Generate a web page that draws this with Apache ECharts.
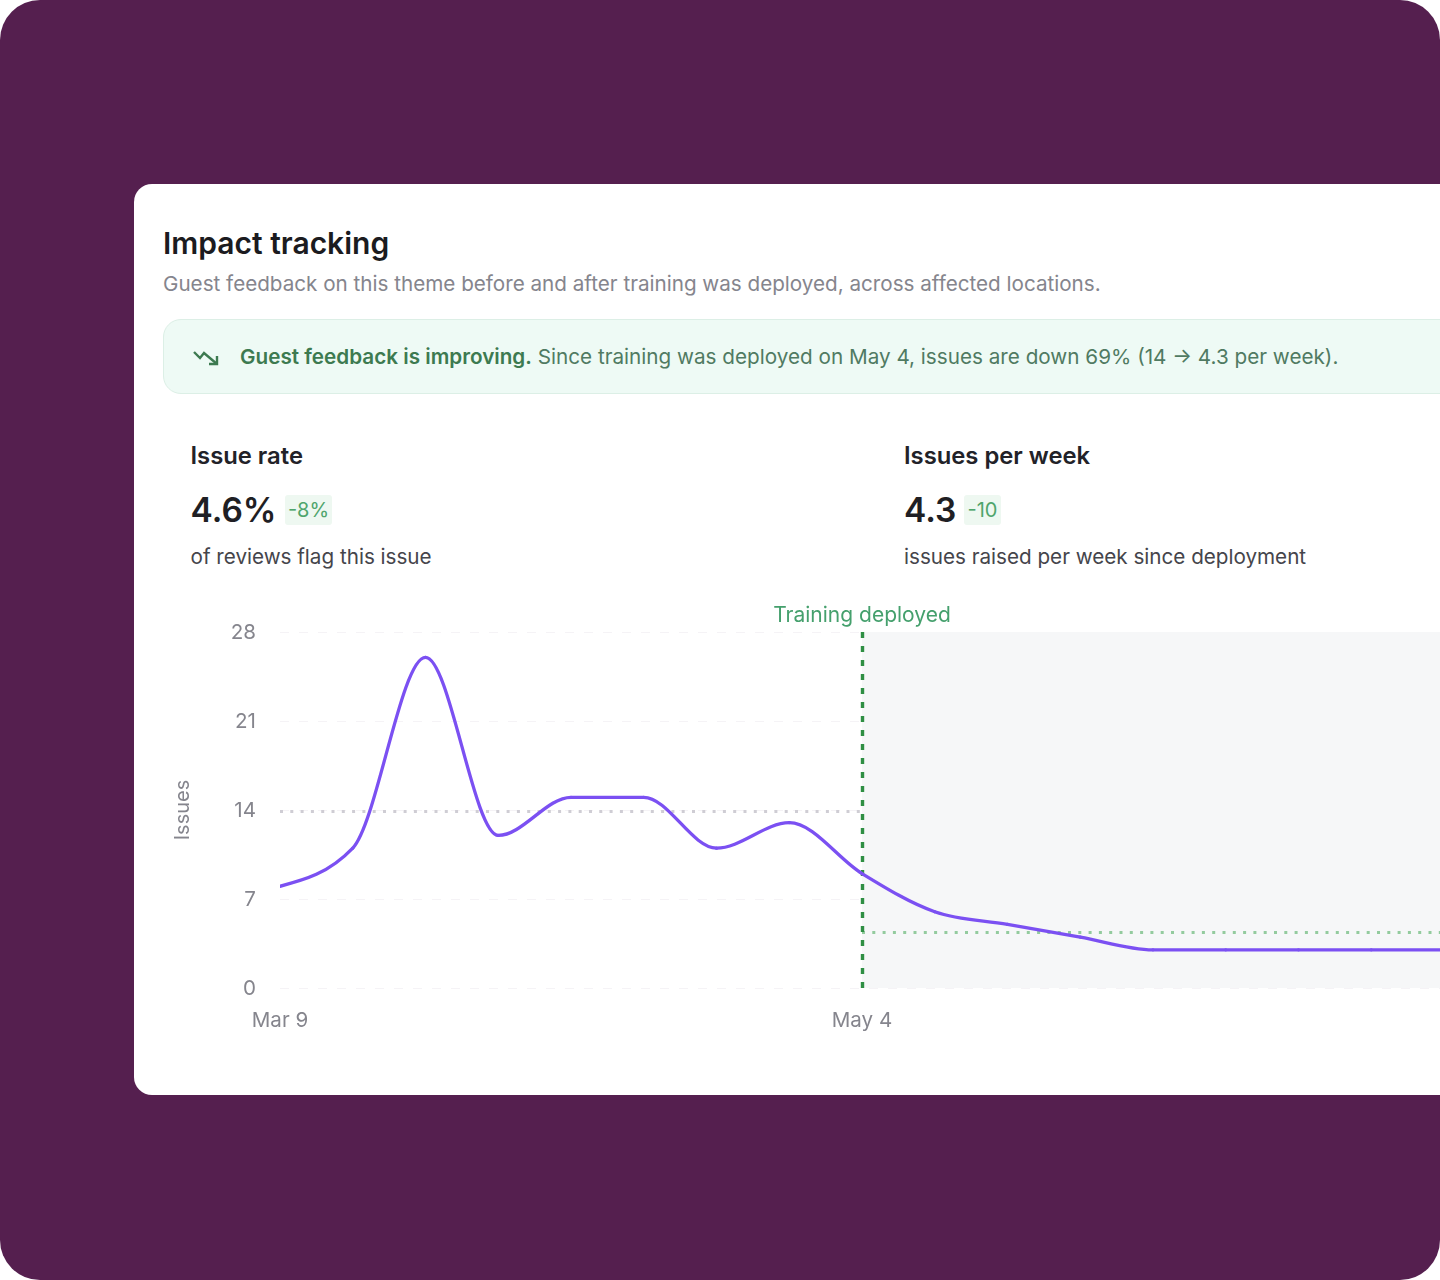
<!DOCTYPE html>
<html><head><meta charset="utf-8">
<script src="https://cdn.jsdelivr.net/npm/echarts@6/dist/echarts.min.js"></script>
<style>
html,body{margin:0;padding:0;width:1440px;height:1280px;overflow:hidden;background:#fff;font-family:Inter,sans-serif}
#bg{position:absolute;left:0;top:0;width:1440px;height:1280px;background:#551f4f;border-radius:40px;overflow:hidden}
#card{position:absolute;left:134px;top:184px;width:1400px;height:911px;background:#fff;border-radius:18px}
.t{position:absolute;white-space:nowrap;line-height:1}
#banner{position:absolute;left:163px;top:319px;width:1400px;height:73px;background:#eefaf5;border:1px solid #dcefe6;border-radius:18px}
.chip{position:absolute;background:#eef8f1;color:#4fa56c;font-size:20px;line-height:30px;height:30px;text-align:center;border-radius:3px}
#chart{position:absolute;left:0;top:590px;width:1500px;height:460px}
</style></head><body>
<div id="bg">
<div id="card"></div>
<div class="t" style="left:163px;top:228px;font-size:30px;font-weight:600;color:#1b1b20">Impact tracking</div>
<div class="t" style="left:163px;top:274px;font-size:20.65px;color:#85858d">Guest feedback on this theme before and after training was deployed, across affected locations.</div>
<div id="banner"></div>
<svg style="position:absolute;left:192px;top:347px" width="28" height="22" viewBox="0 0 28 22" fill="none" stroke="#3d7a50" stroke-width="2.4" stroke-linejoin="miter"><path d="M2 5 L8 11 L12 6 L25 17"/><path d="M25 9 V17 H17"/></svg>
<div class="t" style="left:240px;top:346.5px;font-size:20.7px;color:#507a62"><b style="font-weight:600;color:#3d7a50">Guest feedback is improving.</b> Since training was deployed on May 4, issues are down 69% (14 → 4.3 per week).</div>
<div class="t" style="left:190.5px;top:444px;font-size:23.8px;font-weight:600;color:#222228">Issue rate</div>
<div class="t" style="left:190.5px;top:494px;font-size:33.5px;font-weight:600;color:#1f1f24">4.6%</div>
<div class="chip" style="left:285px;top:495px;width:47px">-8%</div>
<div class="t" style="left:190.5px;top:546.5px;font-size:20.65px;color:#45454b">of reviews flag this issue</div>
<div class="t" style="left:904px;top:444px;font-size:23.8px;font-weight:600;color:#222228">Issues per week</div>
<div class="t" style="left:904px;top:494px;font-size:33.5px;font-weight:600;color:#1f1f24">4.3</div>
<div class="chip" style="left:964px;top:495px;width:37px">-10</div>
<div class="t" style="left:904px;top:546.5px;font-size:20.65px;color:#45454b">issues raised per week since deployment</div>
<div id="chart"></div>
</div>
<script>
const weeks = ['Mar 9','Mar 16','Mar 23','Mar 30','Apr 6','Apr 13','Apr 20','Apr 27','May 4','May 11','May 18','May 25','Jun 1','Jun 8','Jun 15','Jun 22','Jun 29'];
const issues = [8,11,26,12,15,15,11,13,9,6,5,4,3,3,3,3,3];
const shownTicks = ['Mar 9','May 4'];
const yTicks = [0,7,14,21,28];
const deployedAt = 'May 4';
const deployedLabel = 'Training deployed';
const avgBefore = 13.9;
const avgAfter = 4.4;
const firstWeek = weeks[0];
const lastWeek = weeks[weeks.length-1];

// Monotone cubic tangents through pixel points given by the axes
function monotoneTangents(p){
  const n=p.length, s=[], t=new Array(n);
  for(let i=0;i<n-1;i++) s[i]=(p[i+1][1]-p[i][1])/(p[i+1][0]-p[i][0]);
  for(let i=1;i<n-1;i++){
    const h0=p[i][0]-p[i-1][0], h1=p[i+1][0]-p[i][0];
    const m=(s[i-1]*h1+s[i]*h0)/(h0+h1);
    t[i]=(Math.sign(s[i-1])+Math.sign(s[i]))*Math.min(Math.abs(s[i-1]),Math.abs(s[i]),0.5*Math.abs(m));
  }
  t[0]=(3*s[0]-t[1])/2; t[n-1]=(3*s[n-2]-t[n-2])/2;
  return t;
}

const chart = echarts.init(document.getElementById('chart'),null,{renderer:'canvas'});
const tickFont = {color:'#85858d',fontSize:20.6,fontFamily:'Inter'};
chart.setOption({
  animation:false,
  grid:{left:280,top:42,width:1164,height:356,containLabel:false},
  xAxis:{type:'category',data:weeks,boundaryGap:false,
    axisLine:{show:false},axisTick:{show:false},splitLine:{show:false},
    axisLabel:{...tickFont,margin:22,interval:0,hideOverlap:false,
      formatter:v=>shownTicks.includes(v)?v:''}},
  yAxis:{type:'value',min:yTicks[0],max:yTicks[yTicks.length-1],interval:7,
    name:'Issues',nameLocation:'middle',nameGap:87,nameRotate:90,
    nameTextStyle:{color:'#85858d',fontSize:20,fontFamily:'Inter'},
    axisLine:{show:false},axisTick:{show:false},
    axisLabel:{margin:24,formatter:v=>'{a|'+v+'}',rich:{a:{...tickFont,padding:[2,0,0,0]}}},
    splitLine:{lineStyle:{color:'#f5f3f6',width:1.2,type:[9,10]}}},
  series:[{
    type:'custom',
    data:issues.map((v,i)=>[i,v]),
    encode:{x:0,y:1},
    clip:true,z:5,silent:true,
    renderItem:(params,api)=>{
      const i=params.dataIndex;
      if(i>=issues.length-1) return null;
      const p=issues.map((v,k)=>api.coord([k,v]));
      const t=monotoneTangents(p);
      const dx=(p[i+1][0]-p[i][0])/3;
      return {type:'bezierCurve',shape:{
          x1:p[i][0],y1:p[i][1],
          cpx1:p[i][0]+dx,cpy1:p[i][1]+dx*t[i],
          cpx2:p[i+1][0]-dx,cpy2:p[i+1][1]-dx*t[i+1],
          x2:p[i+1][0],y2:p[i+1][1]},
        style:{fill:null,stroke:'#7b50f2',lineWidth:3.3,lineCap:'round'}};
    },
    markArea:{silent:true,z:1,itemStyle:{color:'#f6f7f8'},data:[[{xAxis:deployedAt},{xAxis:lastWeek}]]},
    markLine:{silent:true,symbol:'none',z:4,data:[
      [{xAxis:firstWeek,yAxis:avgBefore,lineStyle:{color:'#cfcdd4',width:3,type:[3,7.3]},label:{show:false}},{xAxis:deployedAt,yAxis:avgBefore}],
      [{xAxis:deployedAt,yAxis:avgAfter,lineStyle:{color:'#93cb9e',width:3,type:[3,7.3]},label:{show:false}},{xAxis:lastWeek,yAxis:avgAfter}],
      {xAxis:deployedAt,lineStyle:{color:'#2f8f44',width:3.4,type:[6,8]},
       label:{show:true,formatter:deployedLabel,position:'end',distance:6,color:'#45a06d',fontSize:21,fontFamily:'Inter'}}
    ]}
  }]
});
</script>
</body></html>
